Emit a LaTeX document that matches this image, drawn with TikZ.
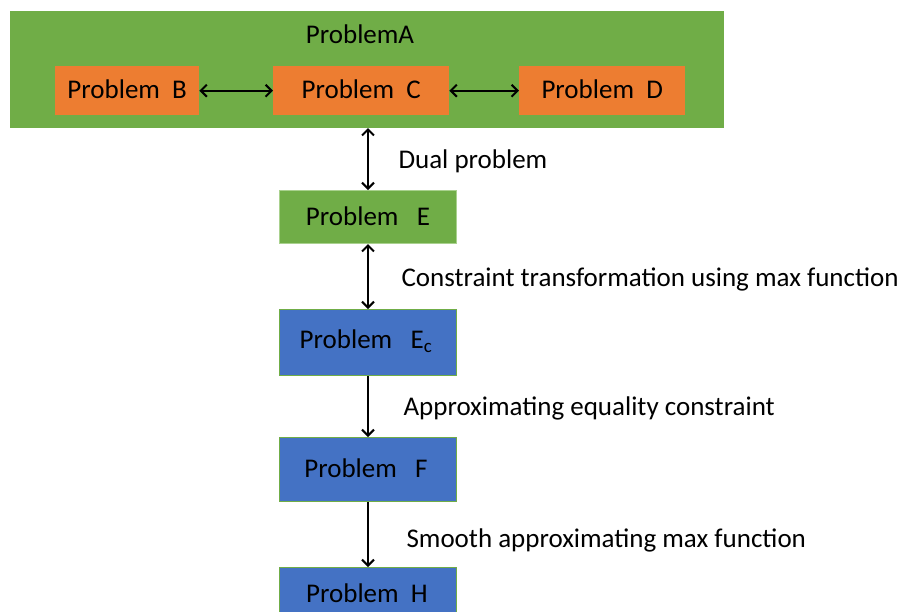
\documentclass[tikz,border=0pt]{standalone}
\usepackage{fontspec}
\setmainfont{Carlito}
\usetikzlibrary{arrows.meta}
\definecolor{pgreen}{HTML}{70AD47}
\definecolor{porange}{HTML}{ED7D31}
\definecolor{pblue}{HTML}{4472C4}
\definecolor{pborder}{HTML}{A9D18E}
\begin{document}
\begin{tikzpicture}[x=1pt,y=-1pt,
  lbl/.style={font=\fontsize{27}{30}\selectfont, text=black},
  box/.style={lbl, inner sep=0pt, anchor=north west},
  conn/.style={line width=2pt, {Straight Barb[length=6pt,width=12pt]}-{Straight Barb[length=6pt,width=12pt]}},
  conn1/.style={line width=2pt, -{Straight Barb[length=6pt,width=12pt]}}
]
\useasboundingbox (0,0) rectangle (900,611);
\clip (0,0) rectangle (900,611);
% big box A
\node[box, fill=pgreen, minimum width=714pt, minimum height=117pt] (A) at (10,11) {};
\node[lbl] (At) at (360,34) {ProblemA};
\node[box, fill=porange, minimum width=144pt, minimum height=49pt] (B) at (55,66) {};
\node[lbl] at ([yshift=1pt]B.center) {Problem\ \ B};
\node[box, fill=porange, minimum width=176pt, minimum height=49pt] (C) at (273,66) {};
\node[lbl] at ([yshift=1pt]C.center) {Problem\ \ C};
\node[box, fill=porange, minimum width=166pt, minimum height=49pt] (D) at (519,66) {};
\node[lbl] at ([yshift=1pt]D.center) {Problem\ \ D};
\draw[conn] (B.east) -- (C.west);
\draw[conn] (C.east) -- (D.west);
% E
\node[box, fill=pgreen, draw=pborder, line width=1pt, minimum width=177pt, minimum height=53pt] (E) at (279,190) {};
\node[lbl] at ([yshift=1pt]E.center) {Problem\ \ \ E};
\node[box, fill=pblue, draw=pgreen, line width=1pt, minimum width=177pt, minimum height=66pt] (Ec) at (279,309) {};
\node[lbl] at ([xshift=-2pt,yshift=1pt]Ec.center) {Problem\ \ \ E\textsubscript{c}};
\node[box, fill=pblue, draw=pgreen, line width=1pt, minimum width=177pt, minimum height=64pt] (F) at (279,437) {};
\node[lbl] at ([xshift=-2pt,yshift=1pt]F.center) {Problem\ \ \ F};
\node[box, fill=pblue, draw=pgreen, line width=1pt, minimum width=177pt, minimum height=64pt] (H) at (279,567) {};
\node[lbl] at (367,593) {Problem\ \ H};
% connectors
\coordinate (Ab) at (368,128);
\draw[conn] (Ab) -- (E.north -| Ab);
\draw[conn] (E.south -| Ab) -- (Ec.north -| Ab);
\draw[conn1] (Ec.south -| Ab) -- (F.north -| Ab);
\draw[conn1] (F.south -| Ab) -- (H.north -| Ab);
% labels
\node[lbl, anchor=west] (l1) at (395,161) {Dual problem};
\node[lbl, anchor=west] (l2) at (398,279) {Constraint transformation using max function};
\node[lbl, anchor=west] (l3) at (400,408) {Approximating equality constraint};
\node[lbl, anchor=west] (l4) at (403,540) {Smooth approximating max function};
\end{tikzpicture}
\end{document}
